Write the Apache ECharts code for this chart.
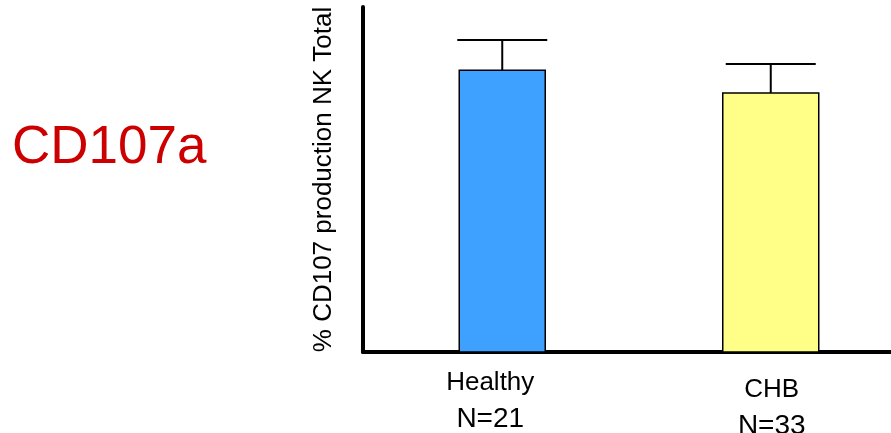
<!DOCTYPE html>
<html>
<head>
<meta charset="utf-8">
<script src="https://cdn.jsdelivr.net/npm/echarts@6/dist/echarts.min.js"></script>
<style>
html,body{margin:0;padding:0;background:#fff;}
#chart{width:891px;height:433px;}
</style>
</head>
<body>
<div id="chart"></div>
<script>
// ---- data ----
const categories = ['Healthy', 'CHB'];
const sampleSizes = ['N=21', 'N=33'];
const meanValues = [81.7, 75.1];
const errorTops = [90.4, 83.5];
const titleText = 'CD107a';
const yAxisName = '% CD107 production NK Total';

// ---- styles ----
const barColors = ['#3fa1ff', '#ffff88'];
const barWidths = [86, 96];
const barShift = [3, -1];
const capWidth = 90;
const labelPad = [[0, 18, 0, 0], [7, 0, 0, 0]];

const chart = echarts.init(document.getElementById('chart'), null, {renderer: 'canvas'});

const seriesData = categories.map((c, i) => [i, meanValues[i], errorTops[i]]);

chart.setOption({
  animation: false,
  backgroundColor: '#ffffff',
  title: {
    text: titleText,
    left: 7,
    top: 117,
    textStyle: {fontFamily: 'Liberation Sans', fontSize: 53, fontWeight: 'normal', color: '#cc0000'}
  },
  grid: {left: 363, top: 7, width: 545, bottom: 81, containLabel: false, outerBoundsMode: 'none'},
  xAxis: {
    type: 'category',
    data: categories.map((c, i) => ({
      value: c,
      textStyle: {padding: labelPad[i]}
    })),
    axisLine: {show: true, lineStyle: {color: '#000', width: 4}},
    axisTick: {show: false},
    axisLabel: {
      margin: 14,
      fontFamily: 'Liberation Sans',
      color: '#000',
      formatter: function (v) {
        const i = categories.indexOf(v);
        return '{a|' + v + '}\n{b|' + sampleSizes[i] + '}';
      },
      rich: {
        a: {fontFamily: 'Liberation Sans', fontSize: 26, color: '#000', lineHeight: 34},
        b: {fontFamily: 'Liberation Sans', fontSize: 28, color: '#000', lineHeight: 38}
      }
    },
    splitLine: {show: false}
  },
  yAxis: {
    type: 'value',
    min: 0,
    max: 100,
    name: yAxisName,
    nameLocation: 'middle',
    nameRotate: 90,
    nameGap: 26,
    nameTextStyle: {fontFamily: 'Liberation Sans', fontSize: 26, color: '#000'},
    axisLine: {show: true, lineStyle: {color: '#000', width: 4}},
    axisTick: {show: false},
    axisLabel: {show: false},
    splitLine: {show: false}
  },
  series: [{
    type: 'custom',
    data: seriesData,
    encode: {x: 0, y: [1, 2]},
    renderItem: function (params, api) {
      const i = params.dataIndex;
      const base = api.coord([api.value(0), 0]);
      const top = api.coord([api.value(0), api.value(1)]);
      const err = api.coord([api.value(0), api.value(2)]);
      const cx = top[0] + barShift[i];
      const w = barWidths[i];
      return {
        type: 'group',
        children: [
          {
            type: 'rect',
            shape: {x: cx - w / 2, y: top[1], width: w, height: base[1] - top[1]},
            style: {fill: barColors[i], stroke: '#000', lineWidth: 1.5}
          },
          {
            type: 'line',
            shape: {x1: cx, y1: top[1], x2: cx, y2: err[1]},
            style: {stroke: '#000', lineWidth: 2}
          },
          {
            type: 'line',
            shape: {x1: cx - capWidth / 2, y1: err[1], x2: cx + capWidth / 2, y2: err[1]},
            style: {stroke: '#000', lineWidth: 2}
          }
        ]
      };
    },
    z: 1
  }]
});
</script>
</body>
</html>
